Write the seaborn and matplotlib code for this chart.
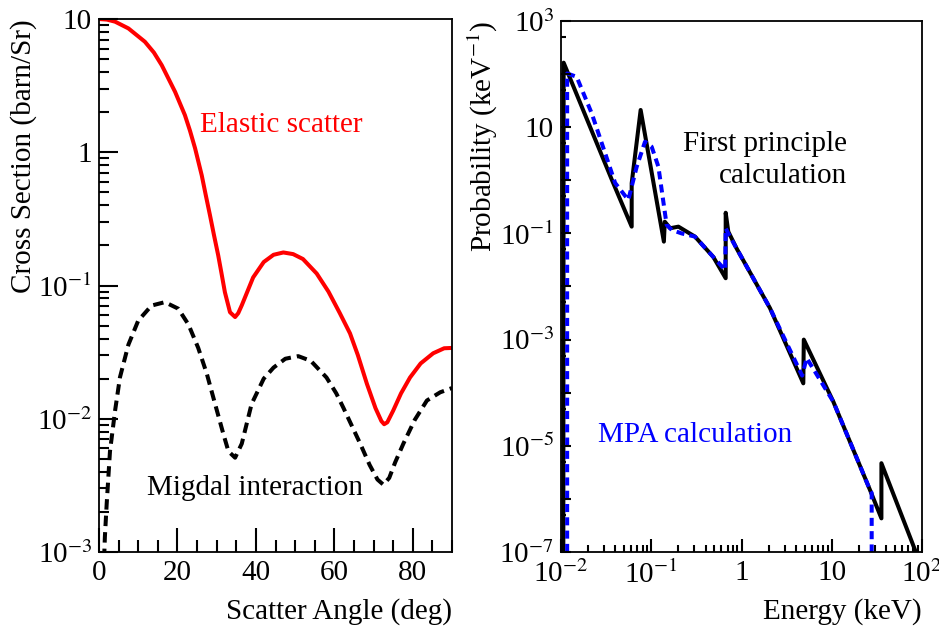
import numpy as np
import pandas as pd
import matplotlib
matplotlib.use("Agg")
import matplotlib.pyplot as plt
import seaborn as sns
from matplotlib.ticker import FixedLocator, FuncFormatter, NullFormatter, MultipleLocator

# ---------------- data: left panel ----------------
angle_elastic = [0, 2, 4.1, 7.5, 11.7, 14, 16, 19.4, 21.9, 23.2, 24.5, 26.2, 27.2, 28.3, 29.3,
                 30.4, 31.2, 32.1, 33.4, 34.7, 35.5, 36.4, 39.3, 42, 44.5, 47, 49.5, 52, 55.5,
                 58.5, 61.4, 64, 66, 68.3, 70.5, 72, 72.7, 73.5, 75, 77, 79.3, 82, 85.2, 88, 90]
xs_elastic = [10, 9.9, 9.55, 8.5, 6.75, 5.6, 4.5, 2.84, 1.9, 1.45, 1.07, 0.67, 0.48, 0.336, 0.24,
              0.168, 0.125, 0.089, 0.063, 0.058, 0.062, 0.071, 0.115, 0.150, 0.170, 0.177, 0.172,
              0.158, 0.123, 0.090, 0.062, 0.0437, 0.030, 0.0183, 0.0120, 0.0096, 0.0091, 0.0094,
              0.0115, 0.0155, 0.0204, 0.026, 0.031, 0.0338, 0.034]

angle_migdal = [1.0, 1.5, 1.96, 2.8, 4.1, 5.35, 7.5, 10.0, 13.4, 16.8, 20.2, 22.8, 25.3, 27.5,
                29.6, 31.7, 33.0, 34.7, 36.4, 38.9, 42, 44.5, 47.5, 50.8, 54, 58,
                60.5, 62.3, 64.5, 66.6, 69, 71, 72.5, 74, 75.5, 77.6, 80.5, 83.6, 87, 90]
xs_migdal = [0.0005, 0.0013, 0.0023, 0.0057, 0.0115, 0.0205, 0.036, 0.0545, 0.0707, 0.075,
             0.067, 0.051, 0.034, 0.0217, 0.0129, 0.0077, 0.0057, 0.0051, 0.0065, 0.0129,
             0.020, 0.0242, 0.0282, 0.0295, 0.0272, 0.0204,
             0.0155, 0.0121, 0.0088, 0.0065, 0.0045, 0.0035, 0.0032, 0.0036, 0.0047, 0.0065,
             0.0098, 0.0137, 0.0158, 0.017]

# ---------------- data: right panel ----------------
energy_fp = [0.0106, 0.0107, 0.0367, 0.0607, 0.0607, 0.0763, 0.138, 0.1413, 0.162, 0.200,
             0.305, 0.487, 0.668, 0.668, 0.714, 0.883, 2.07, 4.84, 4.90, 10.4, 26.5, 35.5,
             35.5, 83.6, 95.0]
prob_fp = [1e-8, 164, 1.01, 0.134, 0.88, 21.1, 0.070, 0.166, 0.125, 0.134,
           0.087, 0.036, 0.0143, 0.245, 0.108, 0.052, 0.0039, 1.5e-4, 1.0e-3, 6.8e-5,
           1.48e-6, 4.3e-7, 4.7e-6, 1.1e-7, 4e-8]

energy_mpa = [0.0117, 0.0117, 0.0149, 0.0219, 0.0398, 0.0557, 0.069, 0.0853, 0.101, 0.120,
              0.148, 0.169, 0.217, 0.305, 0.487, 0.660, 0.668, 0.714, 0.883, 2.07, 4.70,
              5.27, 10.4, 26.5, 27.7, 27.7]
prob_mpa = [1e-8, 103, 89, 18.2, 0.89, 0.427, 1.8, 5.33, 4.3, 1.8,
            0.145, 0.116, 0.100, 0.087, 0.036, 0.0204, 0.125, 0.100, 0.052, 0.0039, 2.1e-4,
            4.5e-4, 6.8e-5, 1.48e-6, 1.29e-6, 1e-8]

# ---------------- style ----------------
sns.set_theme(style="white")
plt.rcParams["font.family"] = ["Liberation Serif", "DejaVu Serif"]
plt.rcParams["mathtext.fontset"] = "stix"
plt.rcParams.update({
    "xtick.bottom": True, "ytick.left": True,
    "xtick.direction": "in", "ytick.direction": "in",
    "xtick.major.pad": 6, "ytick.major.pad": 5,
    "xtick.labelsize": 21, "ytick.labelsize": 21,
})

FS = 21
DPI = 100
fig = plt.figure(figsize=(9.39, 6.29), dpi=DPI)
ax1 = fig.add_axes([99 / 939, 1 - 552 / 629, 353 / 939, 533 / 629])
ax2 = fig.add_axes([561 / 939, 1 - 552 / 629, 361 / 939, 531 / 629])

# left panel
sns.lineplot(x=angle_elastic, y=xs_elastic, ax=ax1, color="red", lw=2.9,
             sort=False, estimator=None)
sns.lineplot(x=angle_migdal, y=xs_migdal, ax=ax1, color="black", lw=2.9,
             sort=False, estimator=None, linestyle=(0, (2.6, 1.5)))
ax1.set_yscale("log")
ax1.set_xlim(0, 90)
ax1.set_ylim(1e-3, 10)

# right panel
sns.lineplot(x=energy_fp, y=prob_fp, ax=ax2, color="black", lw=2.9,
             sort=False, estimator=None)
sns.lineplot(x=energy_mpa, y=prob_mpa, ax=ax2, color="blue", lw=2.9,
             sort=False, estimator=None, linestyle=(0, (2.0, 1.3)))
ax2.set_xscale("log")
ax2.set_yscale("log")
ax2.set_xlim(1e-2, 1e2)
ax2.set_ylim(1e-7, 1e3)


def dec_fmt(v, pos):
    e = int(round(np.log10(v)))
    if e == 0:
        return "1"
    if e == 1:
        return "10"
    return "10$^{%d}$" % e


def odd_fmt(v, pos):
    e = int(round(np.log10(v)))
    if e % 2 == 0:
        return ""
    return dec_fmt(v, pos)


# ticks left
ax1.xaxis.set_major_locator(MultipleLocator(20))
ax1.xaxis.set_minor_locator(MultipleLocator(5))
ax1.yaxis.set_major_locator(FixedLocator([1e-3, 1e-2, 1e-1, 1, 10]))
ax1.yaxis.set_major_formatter(FuncFormatter(dec_fmt))
ax1.yaxis.set_minor_locator(FixedLocator([m * 10.0 ** e for e in range(-3, 1) for m in range(2, 10)]))
ax1.yaxis.set_minor_formatter(NullFormatter())

# ticks right
ax2.xaxis.set_major_locator(FixedLocator([1e-2, 1e-1, 1, 10, 100]))
ax2.xaxis.set_major_formatter(FuncFormatter(dec_fmt))
ax2.xaxis.set_minor_locator(FixedLocator([m * 10.0 ** e for e in range(-2, 2) for m in range(2, 10)]))
ax2.xaxis.set_minor_formatter(NullFormatter())
ax2.yaxis.set_major_locator(FixedLocator([10.0 ** e for e in range(-7, 4)]))
ax2.yaxis.set_major_formatter(FuncFormatter(odd_fmt))
ax2.yaxis.set_minor_locator(FixedLocator([5 * 10.0 ** e for e in range(-7, 3)]))
ax2.yaxis.set_minor_formatter(NullFormatter())

# tick lengths in points: (x major, x minor, y major, y minor)
tick_len = {ax1: (17, 8.5, 14, 7), ax2: (9.5, 5, 7.5, 3.8)}


def inward_ticks(ax, lengths):
    """Draw ROOT-style inward tick marks at the axis locator positions."""
    fig_w, fig_h = fig.get_size_inches() * DPI
    pos = ax.get_position()
    w_px, h_px = pos.width * fig_w, pos.height * fig_h
    xlo, xhi = sorted(ax.get_xlim())
    ylo, yhi = sorted(ax.get_ylim())
    xmaj = [v for v in ax.xaxis.get_major_locator().tick_values(xlo, xhi) if xlo <= v <= xhi]
    xmin = [v for v in ax.xaxis.get_minor_locator().tick_values(xlo, xhi) if xlo <= v <= xhi]
    ymaj = [v for v in ax.yaxis.get_major_locator().tick_values(ylo, yhi) if ylo <= v <= yhi]
    ymin = [v for v in ax.yaxis.get_minor_locator().tick_values(ylo, yhi) if ylo <= v <= yhi]
    xmin = [v for v in xmin if not np.any(np.isclose(v, xmaj))]
    ymin = [v for v in ymin if not np.any(np.isclose(v, ymaj))]
    lx_maj, lx_min, ly_maj, ly_min = [L * DPI / 72 for L in lengths]
    kw = dict(color="black", lw=1.5, zorder=4, clip_on=False, capstyle="butt")
    ax.vlines(xmaj, 0, lx_maj / h_px, transform=ax.get_xaxis_transform(), **kw)
    ax.vlines(xmin, 0, lx_min / h_px, transform=ax.get_xaxis_transform(), **kw)
    ax.hlines(ymaj, 0, ly_maj / w_px, transform=ax.get_yaxis_transform(), **kw)
    ax.hlines(ymin, 0, ly_min / w_px, transform=ax.get_yaxis_transform(), **kw)


for ax in (ax1, ax2):
    ax.xaxis.set_tick_params(which="both", length=0, labelsize=FS, labelcolor="black")
    ax.yaxis.set_tick_params(which="both", length=0, labelsize=FS, labelcolor="black")
    inward_ticks(ax, tick_len[ax])
    for s in ax.spines.values():
        s.set_color("black")
        s.set_linewidth(1.3)
        s.set_zorder(5)

# axis titles (ROOT style: at the end of the axis)
ax1.set_xlabel("Scatter Angle (deg)", fontsize=FS, loc="right", color="black")
ax1.set_ylabel("Cross Section (barn/Sr)", fontsize=FS, loc="top", color="black")
ax1.xaxis.set_label_coords(1.0, -0.086)
ax1.yaxis.set_label_coords(-0.176, 1.0)

ax2.set_xlabel("Energy (keV)", fontsize=FS, loc="right", color="black")
ax2.set_ylabel("Probability (keV$^{-1}$)", fontsize=FS, loc="top", color="black")
ax2.xaxis.set_label_coords(1.0, -0.086)
ax2.yaxis.set_label_coords(-0.169, 1.0)

# annotations
ax1.text(25.75, 1.6, "Elastic scatter", color="red", fontsize=FS, ha="left", va="center")
ax1.text(12.2, 0.003, "Migdal interaction", color="black", fontsize=FS, ha="left", va="center")
ax2.text(14.8, 2.45, "First principle\ncalculation", color="black", fontsize=FS,
         ha="right", va="center", multialignment="right", linespacing=1.3)
ax2.text(0.0257, 1.58e-5, "MPA calculation", color="blue", fontsize=FS, ha="left", va="center")

fig.savefig("out.png", dpi=DPI)
